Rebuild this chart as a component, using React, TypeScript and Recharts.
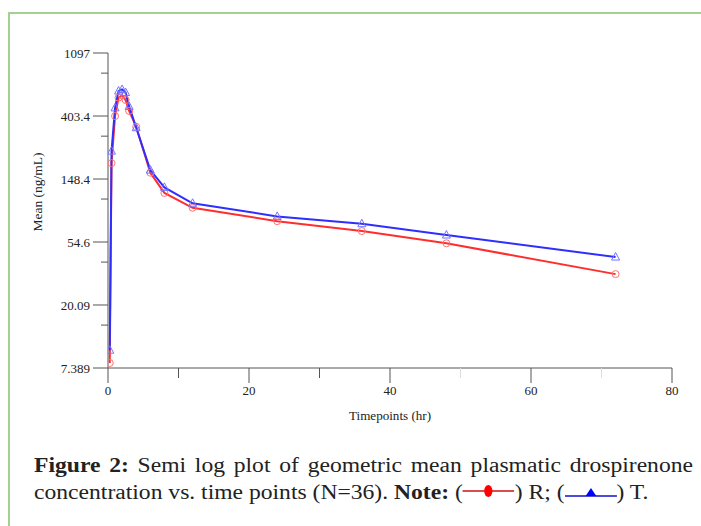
import React from "react";
import { LineChart, Line, XAxis, YAxis } from "recharts";

const timePoints = [0.25, 0.5, 1, 1.5, 2, 2.5, 3, 4, 6, 8, 12, 24, 36, 48, 72];
const refR = [8.0, 191, 403, 540, 560, 520, 437, 340, 164, 119, 94, 76, 65, 53.5, 32.8];
const testT = [9.8, 231, 459, 600, 615, 585, 470, 335, 171, 130, 101, 82, 73, 61, 43];

const yMajorTicks = [7.389, 20.09, 54.6, 148.4, 403.4, 1097];
const yMajorLabels = ["7.389", "20.09", "54.6", "148.4", "403.4", "1097"];
const yMinorTicks = [14.6, 39.7, 108, 293, 797];
const xTicks = [0, 10, 20, 30, 40, 50, 60, 70, 80];
const xLabelTicks = [0, 20, 40, 60, 80];
const xFaintTicks = [50, 70];

const data = timePoints.map((t, i) => ({ t, R: refR[i], T: testT[i] }));
const yTicks = [...yMajorTicks, ...yMinorTicks].sort((a, b) => a - b);

const AXIS = "#555";
const FONT = "'Liberation Serif', 'Times New Roman', serif";

const YTick = (props: any) => {
  const { x, y, payload } = props;
  const v = payload.value;
  const idx = yMajorTicks.indexOf(v);
  const major = idx >= 0;
  return (
    <g>
      <line x1={x - (major ? 15 : 7)} x2={x} y1={y} y2={y} stroke={AXIS} strokeWidth={1} />
      {major && (
        <text x={x - 18} y={y} dy="0.35em" textAnchor="end" fontFamily={FONT} fontSize={13} fill="#222">
          {yMajorLabels[idx]}
        </text>
      )}
    </g>
  );
};

const XTick = (props: any) => {
  const { x, y, payload } = props;
  const v = payload.value;
  const major = xLabelTicks.includes(v);
  const faint = xFaintTicks.includes(v);
  return (
    <g>
      <line x1={x} x2={x} y1={y} y2={y + (major ? 15 : 10)} stroke={faint ? "#ddd" : AXIS} strokeWidth={1} />
      {major && (
        <text x={x} y={y + 27} textAnchor="middle" fontFamily={FONT} fontSize={13} fill="#222">
          {String(v)}
        </text>
      )}
    </g>
  );
};

const CircleDot = (p: any) => {
  if (p.cx == null || p.cy == null) return <g key={`rc-${p.index}`} />;
  return <circle key={`rc-${p.index}`} cx={p.cx} cy={p.cy} r={3.5} fill="none" stroke="#ff7373" strokeWidth={1} />;
};

const TriDot = (p: any) => {
  if (p.cx == null || p.cy == null) return <g key={`bt-${p.index}`} />;
  const { cx, cy } = p;
  const d = `M${cx},${cy - 4.5} L${cx + 4},${cy + 3} L${cx - 4},${cy + 3} Z`;
  return <path key={`bt-${p.index}`} d={d} fill="none" stroke="#7373ff" strokeWidth={1} />;
};

const SCALE = 1.18;

export default function App() {
  return (
    <div style={{ position: "absolute", left: 0, top: 0, width: 701, height: 526, overflow: "hidden", background: "#fff" }}>
      <div style={{ position: "absolute", left: 8, top: 12, width: 693, height: 2, background: "#a3d18f" }} />
      <div style={{ position: "absolute", left: 8, top: 12, width: 2, height: 514, background: "#a3d18f" }} />
      <div style={{ position: "absolute", left: 0, top: 0 }}>
        <LineChart width={701} height={440} data={data} margin={{ top: 53, right: 29, bottom: 12, left: 0 }}>
          <XAxis
            dataKey="t"
            type="number"
            domain={[0, 80]}
            ticks={xTicks}
            interval={0}
            height={60}
            tickSize={0}
            tickMargin={0}
            tickLine={false}
            tick={<XTick />}
            axisLine={{ stroke: AXIS, strokeWidth: 1 }}
            allowDataOverflow
          />
          <YAxis
            type="number"
            scale="log"
            domain={[7.389, 1097]}
            ticks={yTicks}
            interval={0}
            width={108}
            tickSize={0}
            tickMargin={0}
            tickLine={false}
            tick={<YTick />}
            axisLine={{ stroke: AXIS, strokeWidth: 1 }}
            allowDataOverflow
          />
          <Line
            type="linear"
            dataKey="R"
            stroke="#ff2e2e"
            strokeWidth={2}
            dot={CircleDot}
            activeDot={false}
            isAnimationActive={false}
          />
          <Line
            type="linear"
            dataKey="T"
            stroke="#2e2eff"
            strokeWidth={2}
            dot={TriDot}
            activeDot={false}
            isAnimationActive={false}
          />
        </LineChart>
      </div>
      <svg width={701} height={440} style={{ position: "absolute", left: 0, top: 0, pointerEvents: "none" }}>
        <text
          x={37}
          y={192}
          transform="rotate(-90 37 192)"
          textAnchor="middle"
          dy="0.35em"
          fontFamily={FONT}
          fontSize={13.5}
          fill="#222"
        >
          Mean (ng/mL)
        </text>
        <text x={390} y={420} textAnchor="middle" fontFamily={FONT} fontSize={12} fill="#222" textLength={82} lengthAdjust="spacingAndGlyphs">
          Timepoints (hr)
        </text>
      </svg>
      <div
        style={{
          position: "absolute",
          left: 34,
          top: 452,
          width: 659 / SCALE,
          transform: `scaleX(${SCALE})`,
          transformOrigin: "0 0",
          fontFamily: FONT,
          fontSize: 20,
          lineHeight: "27px",
          color: "#222",
        }}
      >
        <div style={{ textAlign: "justify", textAlignLast: "justify" }}>
          <b>Figure 2:</b> Semi log plot of geometric mean plasmatic drospirenone
        </div>
        <div style={{ whiteSpace: "nowrap" }}>
          concentration vs. time points (N=36). <b>Note:</b> (
          <svg width={44} height={20} style={{ verticalAlign: "-3px" }}>
            <line x1={0} x2={44} y1={9} y2={9} stroke="#d01010" strokeWidth={1.5} />
            <ellipse cx={22} cy={9} rx={3.5} ry={6} fill="#ff0000" />
          </svg>
          ) R; (
          <svg width={44} height={20} style={{ verticalAlign: "-3px" }}>
            <line x1={0} x2={44} y1={14} y2={14} stroke="#1010d0" strokeWidth={1.5} />
            <path d="M22,6 L26.5,14 L17.5,14 Z" fill="#0000ff" />
          </svg>
          ) T.
        </div>
      </div>
    </div>
  );
}
